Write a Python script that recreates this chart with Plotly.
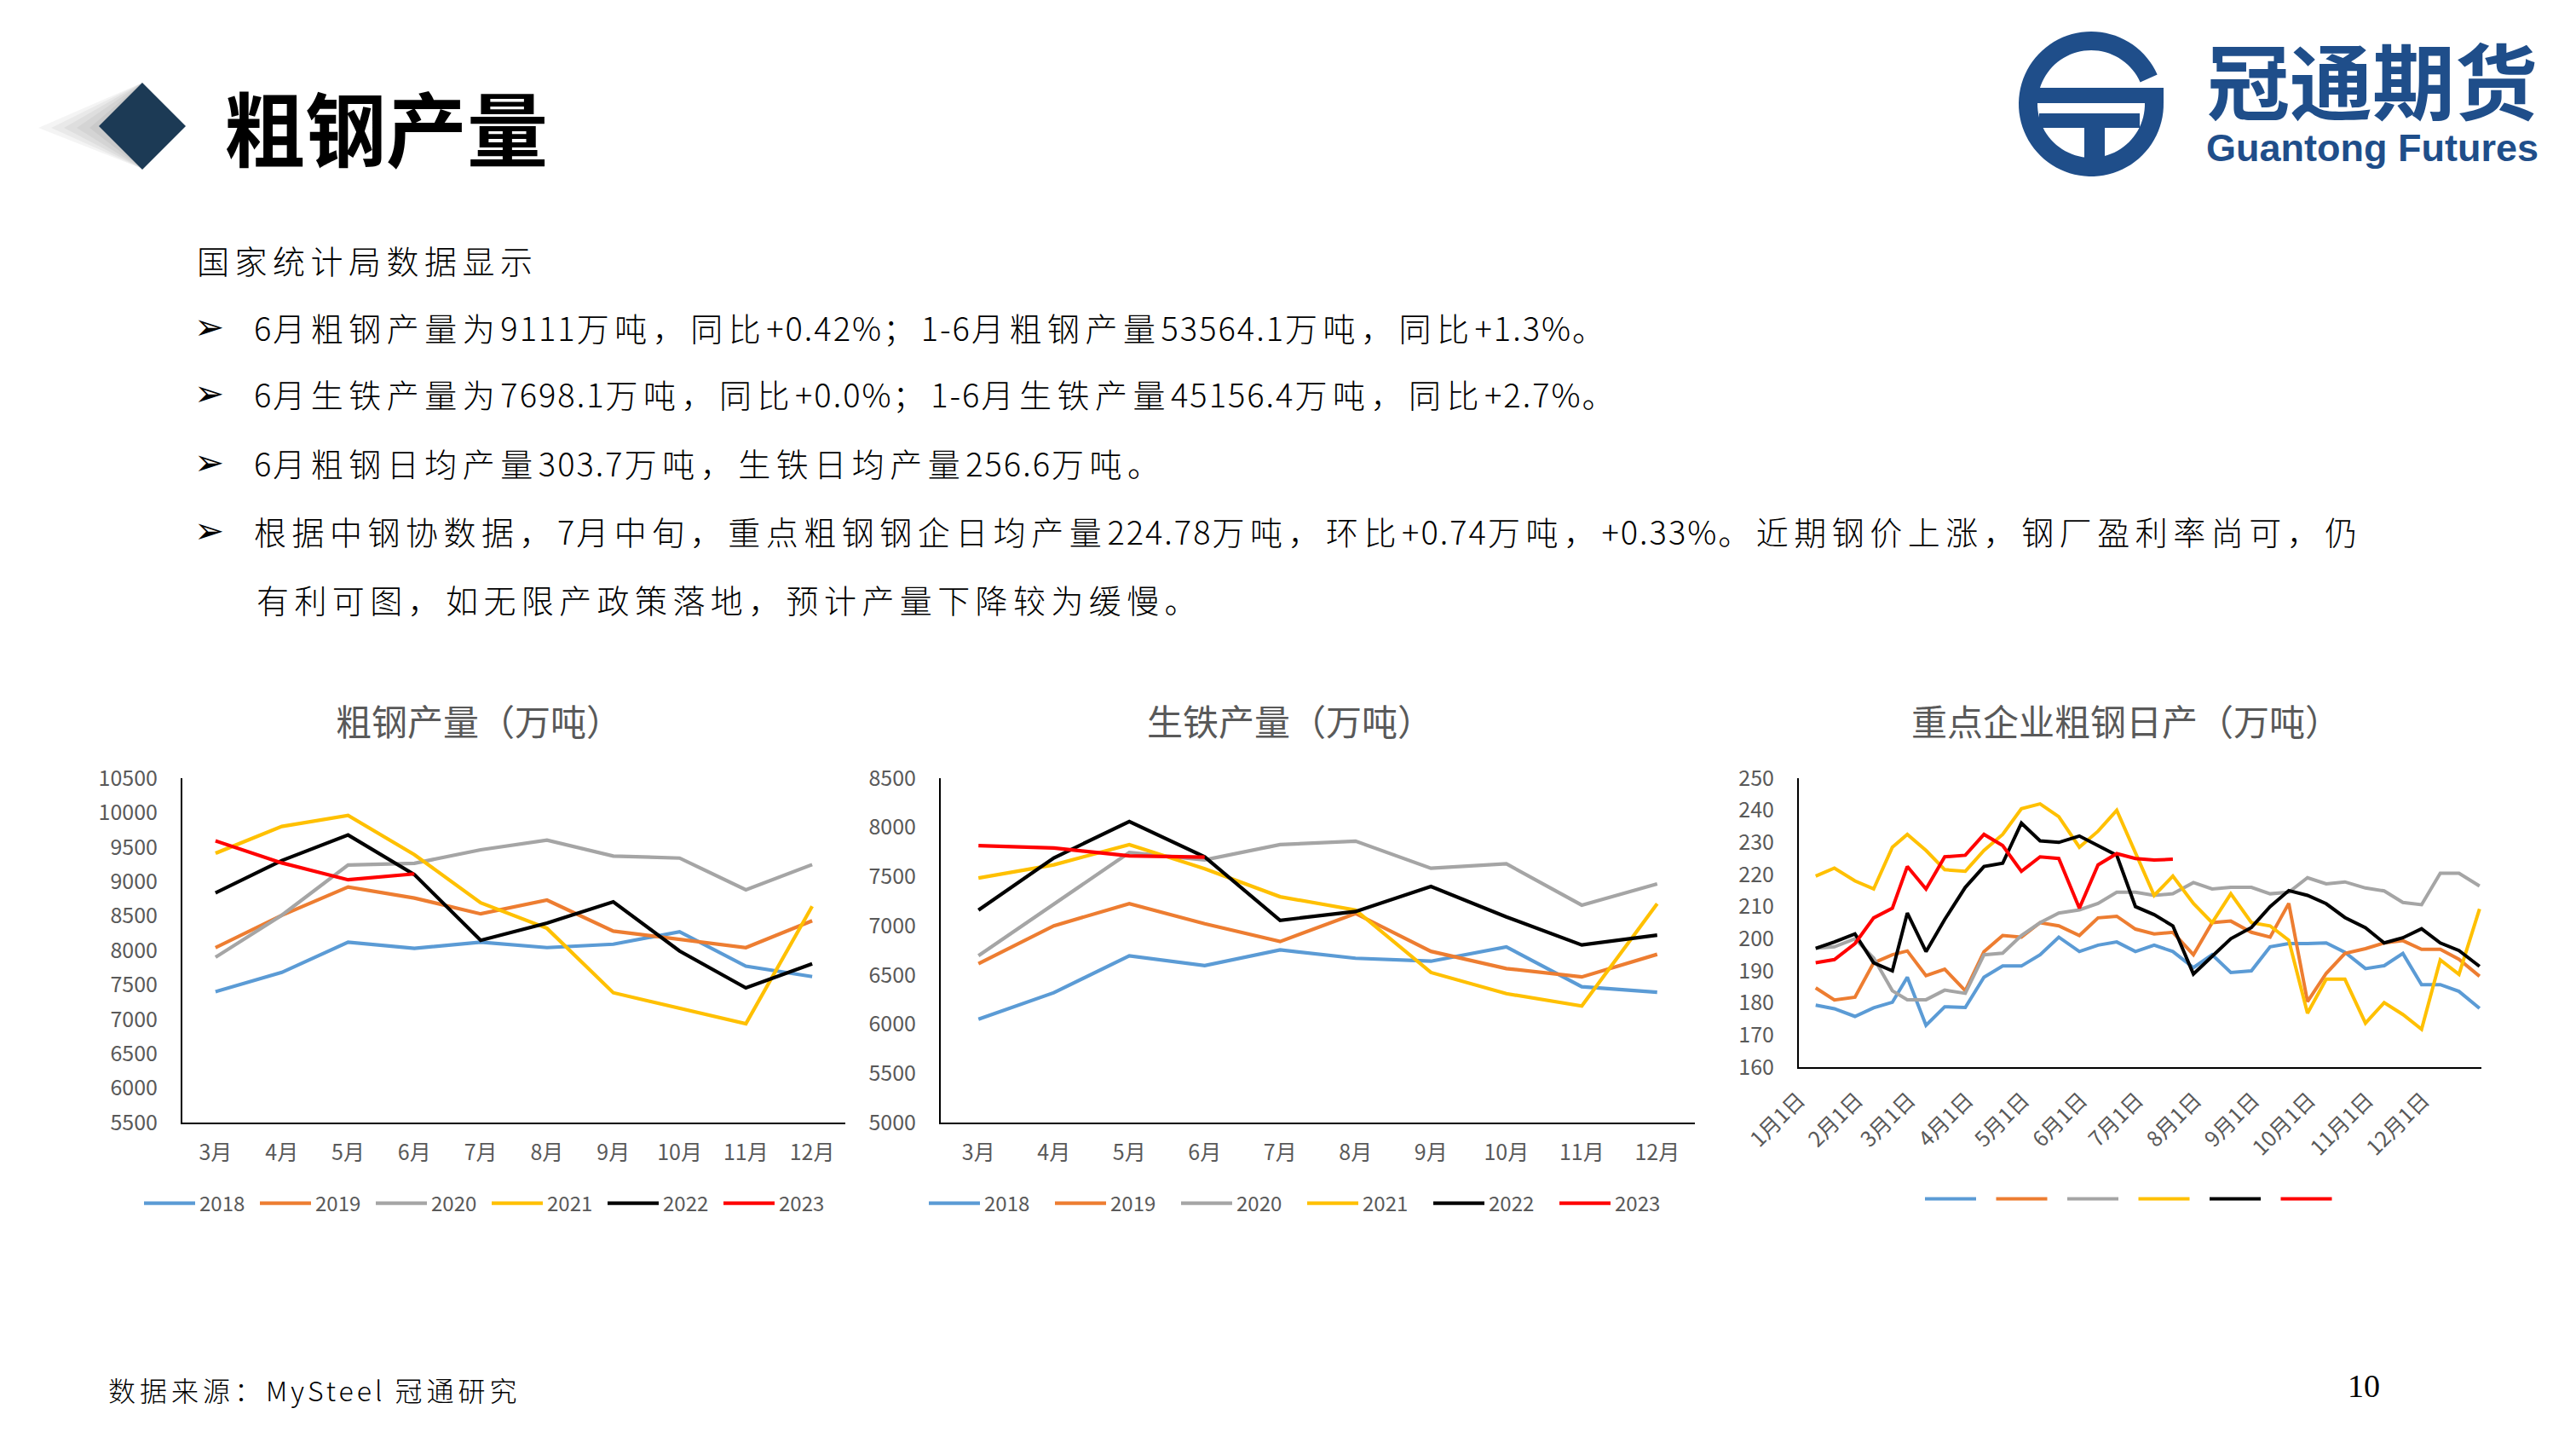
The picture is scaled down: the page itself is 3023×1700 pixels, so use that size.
import math
import re
import plotly.graph_objects as go

W, H = 3023, 1700
FONT = "Noto Sans CJK SC"
GREY = "#595959"
LOGO = "#1F4E8A"

# ---------------- data ----------------
months = ["3月", "4月", "5月", "6月", "7月", "8月", "9月", "10月", "11月", "12月"]
years = ["2018", "2019", "2020", "2021", "2022", "2023"]
year_colors = ["#5B9BD5", "#ED7D31", "#A5A5A5", "#FFC000", "#000000", "#FF0000"]

# 粗钢产量（万吨）
crude_2018 = [7400, 7680, 8120, 8030, 8120, 8040, 8090, 8270, 7770, 7620]
crude_2019 = [8040, 8510, 8920, 8760, 8530, 8730, 8280, 8160, 8040, 8430]
crude_2020 = [7900, 8510, 9240, 9265, 9460, 9600, 9370, 9340, 8880, 9245]
crude_2021 = [9410, 9800, 9960, 9390, 8690, 8320, 7385, 7155, 6935, 8640]
crude_2022 = [8835, 9305, 9675, 9100, 8145, 8395, 8705, 7990, 7455, 7805]
crude_2023 = [9590, 9270, 9025, 9111]

# 生铁产量（万吨）
pig_2018 = [6050, 6320, 6695, 6595, 6755, 6670, 6640, 6785, 6380, 6325]
pig_2019 = [6615, 7000, 7225, 7020, 6840, 7125, 6740, 6565, 6480, 6710]
pig_2020 = [6695, 7215, 7745, 7670, 7825, 7860, 7585, 7630, 7210, 7425]
pig_2021 = [7485, 7620, 7825, 7580, 7295, 7160, 6525, 6310, 6185, 7225]
pig_2022 = [7160, 7690, 8060, 7700, 7055, 7145, 7400, 7090, 6805, 6905]
pig_2023 = [7815, 7790, 7710, 7698.1]

# 重点企业粗钢日产（万吨），每旬一个值
month_last_day = [31, 28, 31, 30, 31, 30, 31, 31, 30, 31, 30, 31]
xun_dates = [f"2023-{m:02d}-{d:02d}" for m in range(1, 13)
             for d in (10, 20, month_last_day[m - 1])]
daily_2018 = [179.3, 178.2, 175.8, 178.5, 180.2, 188.0, 173.0, 178.8, 178.6, 188.0, 191.5, 191.5,
              195.0, 200.5, 196.0, 198.0, 199.0, 196.0, 198.0, 196.0, 191.0, 195.0, 189.5, 190.0,
              197.5, 198.5, 198.5, 198.7, 195.8, 190.7, 191.6, 195.4, 185.7, 185.7, 183.6, 178.3]
daily_2019 = [184.7, 180.9, 181.8, 192.5, 195.0, 196.2, 188.5, 190.5, 183.8, 196.0, 201.0, 200.5,
              205.0, 204.0, 201.0, 206.5, 207.0, 203.0, 201.5, 202.0, 195.0, 205.0, 205.5, 202.0,
              200.5, 211.0, 180.4, 189.2, 195.4, 196.9, 198.7, 199.4, 196.7, 196.7, 193.6, 188.3]
daily_2020 = [197.0, 197.5, 200.0, 194.0, 183.8, 181.0, 181.0, 184.0, 183.0, 195.0, 195.5, 201.0,
              205.0, 208.0, 209.0, 211.0, 214.5, 214.5, 213.5, 214.0, 217.5, 215.5, 216.0, 216.0,
              214.0, 214.5, 219.0, 217.1, 217.7, 215.8, 214.9, 211.3, 210.6, 220.4, 220.4, 216.4]
daily_2021 = [219.5, 222.0, 218.0, 215.5, 228.5, 232.5, 227.5, 221.5, 221.0, 227.5, 232.5, 240.5,
              242.0, 238.0, 228.5, 233.5, 240.0, 227.0, 213.5, 219.5, 211.0, 205.0, 214.0, 205.0,
              204.0, 199.5, 176.8, 187.4, 187.4, 173.7, 180.1, 176.4, 171.8, 193.4, 188.9, 209.3]
daily_2022 = [197.0, 199.0, 201.5, 192.5, 190.0, 208.0, 196.0, 206.0, 216.0, 222.5, 223.5, 236.0,
              230.5, 230.0, 232.0, 229.0, 226.0, 210.0, 207.5, 204.0, 189.0, 194.5, 200.0, 203.5,
              210.0, 215.0, 213.5, 210.9, 206.6, 203.4, 198.7, 200.3, 203.1, 198.7, 196.3, 191.4]
daily_2023 = [192.5, 193.5, 198.5, 206.5, 209.5, 222.5, 215.5, 225.5, 226.0, 232.5, 229.0, 221.0,
              225.5, 225.0, 209.5, 223.0, 226.5, 225.0, 224.5, 224.78]
daily_tick_dates = [f"2023-{m:02d}-01" for m in range(1, 13)]
daily_tick_labels = ["1月1日", "2月1日", "3月1日", "4月1日", "5月1日", "6月1日",
                     "7月1日", "8月1日", "9月1日", "10月1日", "11月1日", "12月1日"]

crude_series = [crude_2018, crude_2019, crude_2020, crude_2021, crude_2022, crude_2023]
pig_series = [pig_2018, pig_2019, pig_2020, pig_2021, pig_2022, pig_2023]
daily_series = [daily_2018, daily_2019, daily_2020, daily_2021, daily_2022, daily_2023]

page_title = "粗钢产量"
intro = "国家统计局数据显示"
bullets = [
    "6月粗钢产量为9111万吨，同比+0.42%；1-6月粗钢产量53564.1万吨，同比+1.3%。",
    "6月生铁产量为7698.1万吨，同比+0.0%；1-6月生铁产量45156.4万吨，同比+2.7%。",
    "6月粗钢日均产量303.7万吨，生铁日均产量256.6万吨。",
    "根据中钢协数据，7月中旬，重点粗钢钢企日均产量224.78万吨，环比+0.74万吨，+0.33%。近期钢价上涨，钢厂盈利率尚可，仍",
]
bullet_cont = "有利可图，如无限产政策落地，预计产量下降较为缓慢。"
chart_titles = ["粗钢产量（万吨）", "生铁产量（万吨）", "重点企业粗钢日产（万吨）"]
source_text = "数据来源：MySteel 冠通研究"
page_no = "10"
logo_cn = "冠通期货"
logo_en = "Guantong Futures"


# ---------------- helpers ----------------
def px(x):
    return x / W


def py(y):
    return 1 - y / H


def spaced(text, cjk_ls, ascii_ls):
    """Wrap runs of CJK / ASCII characters in spans with their own letter spacing."""
    out = []
    for run in re.findall(r"[\x00-\x7f]+|[^\x00-\x7f]+", text):
        ls = ascii_ls if ord(run[0]) < 128 else cjk_ls
        out.append(f"<span style='letter-spacing:{ls}px'>{run}</span>")
    return "".join(out)


fig = go.Figure()

for i, yr in enumerate(years):
    fig.add_trace(go.Scatter(x=months[:len(crude_series[i])], y=crude_series[i], mode="lines",
                             name=yr, line=dict(color=year_colors[i], width=4.2),
                             xaxis="x", yaxis="y", legend="legend", hoverinfo="skip"))
for i, yr in enumerate(years):
    fig.add_trace(go.Scatter(x=months[:len(pig_series[i])], y=pig_series[i], mode="lines",
                             name=yr, line=dict(color=year_colors[i], width=4.2),
                             xaxis="x2", yaxis="y2", legend="legend2", hoverinfo="skip"))
for i, yr in enumerate(years):
    fig.add_trace(go.Scatter(x=xun_dates[:len(daily_series[i])], y=daily_series[i], mode="lines",
                             name=" ", line=dict(color=year_colors[i], width=4),
                             xaxis="x3", yaxis="y3", legend="legend3", hoverinfo="skip"))

tickfont = dict(family=FONT, size=25, color=GREY)


def xaxis_cat(x0, x1, anchor):
    return dict(domain=[px(x0), px(x1)], type="category", range=[-0.5, 9.5],
                showline=True, linecolor="black", linewidth=2, showgrid=False, zeroline=False,
                ticks="", tickfont=tickfont, ticklabelstandoff=12, anchor=anchor,
                automargin=False, fixedrange=True)


def yaxis_lin(y_top, y_bot, rng, dtick, anchor):
    return dict(domain=[py(y_bot), py(y_top)], range=rng, dtick=dtick, tick0=rng[0],
                tickformat="d", showline=True, linecolor="black", linewidth=2, showgrid=False,
                zeroline=False, ticks="", tickfont=tickfont, ticklabelstandoff=22, anchor=anchor,
                automargin=False, fixedrange=True)


def legend_cfg(x_px, y_px, entry_w):
    return dict(orientation="h", x=px(x_px), xanchor="left", y=py(y_px), yanchor="middle",
                font=dict(family=FONT, size=24, color=GREY), itemwidth=60,
                entrywidth=entry_w, entrywidthmode="pixels", bgcolor="rgba(0,0,0,0)",
                borderwidth=0, traceorder="normal", itemclick=False, itemdoubleclick=False)


# ---------------- shapes ----------------
shapes = []


def poly(points, color, opacity=1.0):
    d = "M " + " L ".join(f"{px(x):.6f},{py(y):.6f}" for x, y in points) + " Z"
    return dict(type="path", path=d, xref="paper", yref="paper", fillcolor=color,
                line=dict(width=0), opacity=opacity, layer="above")


def rect(x0, y0, x1, y1, color):
    return dict(type="rect", xref="paper", yref="paper", x0=px(x0), x1=px(x1),
                y0=py(y1), y1=py(y0), fillcolor=color, line=dict(width=0), layer="above")


# diamond shadow
for k in range(8):
    lx = 45 + k * 15
    shapes.append(poly([(167, 97), (lx, 150), (167, 198)], "#000000", 0.045))
# diamond
shapes.append(poly([(167, 97), (218, 148), (167, 199), (116, 148)], "#1C3A55"))

# logo emblem
cx, cy, R, r = 2454, 122, 85, 63
a_start, a_end = 24, 373
n = 90
angles = [math.radians(a_start + (a_end - a_start) * t / n) for t in range(n + 1)]
outer = [(cx + R * math.cos(a), cy - R * math.sin(a)) for a in angles]
inner = [(cx + r * math.cos(a), cy - r * math.sin(a)) for a in reversed(angles)]
shapes.append(poly(outer + inner, LOGO))
shapes.append(rect(2388, 103, 2539, 121, LOGO))
shapes.append(rect(2393, 133, 2511, 150, LOGO))
shapes.append(rect(2446, 148, 2470, 192, LOGO))

# ---------------- annotations ----------------
annotations = []


def add_text(text, x, y, size, color="black", family=FONT, xanchor="left", bold=False,
             weight=None):
    font = dict(family=family, size=size, color=color)
    if weight:
        font["weight"] = weight
    annotations.append(dict(text=f"<b>{text}</b>" if bold else text, x=px(x), y=py(y),
                            xref="paper", yref="paper", xanchor=xanchor, yanchor="middle",
                            align="left" if xanchor == "left" else "center",
                            showarrow=False, font=font))


add_text(spaced(intro, 6.5, 2), 229, 304, 38, weight=300)
line_y = [383, 462, 542, 622]
for txt, yy in zip(bullets, line_y):
    add_text("➢", 226, yy, 42, family="DejaVu Sans")
    add_text(spaced(txt, 6.5, 2), 296, yy, 38, weight=300)
add_text(spaced(bullet_cont, 6.4, 2), 299, 702, 38, weight=300)
add_text(spaced(source_text, 5, 4), 125, 1630, 32, weight=300)

add_text(page_title, 453, 148, 95, bold=True, xanchor="center")
add_text(logo_cn, 2784, 90, 97, color=LOGO, bold=True, xanchor="center")
add_text(logo_en, 2784, 173, 45, color=LOGO, family="Liberation Sans", bold=True,
         xanchor="center")
add_text(page_no, 2774, 1626, 38, family="Liberation Serif", xanchor="center")

for t, cxp in zip(chart_titles, [562, 1514, 2495]):
    add_text(t, cxp, 844, 42, color=GREY, xanchor="center")

fig.update_layout(
    width=W, height=H, margin=dict(l=0, r=0, t=0, b=0, autoexpand=False),
    paper_bgcolor="white", plot_bgcolor="white", hovermode=False,
    xaxis=xaxis_cat(214, 992, "y"),
    yaxis=yaxis_lin(913, 1317, [5500, 10500], 500, "x"),
    xaxis2=xaxis_cat(1104, 1989, "y2"),
    yaxis2=yaxis_lin(913, 1317, [5000, 8500], 500, "x2"),
    xaxis3=dict(domain=[px(2111), px(2912)], type="date", range=["2023-01-01", "2024-01-01"],
                tickmode="array", tickvals=daily_tick_dates, ticktext=daily_tick_labels,
                tickangle=-45, showline=True, linecolor="black", linewidth=2, showgrid=False,
                zeroline=False, ticks="", tickfont=dict(family=FONT, size=25, color=GREY),
                ticklabelstandoff=12, anchor="y3", automargin=False, fixedrange=True),
    yaxis3=yaxis_lin(913, 1252, [160, 250], 10, "x3"),
    legend=legend_cfg(164, 1412, 61),
    legend2=legend_cfg(1085, 1412, 73),
    legend3=legend_cfg(2254, 1407, 8.5),
    shapes=shapes,
    annotations=annotations,
)

post = "document.body.style.margin='0';document.body.style.overflow='hidden';"
fig.write_html("out.html", post_script=post,
               config={"displayModeBar": False, "staticPlot": True})
